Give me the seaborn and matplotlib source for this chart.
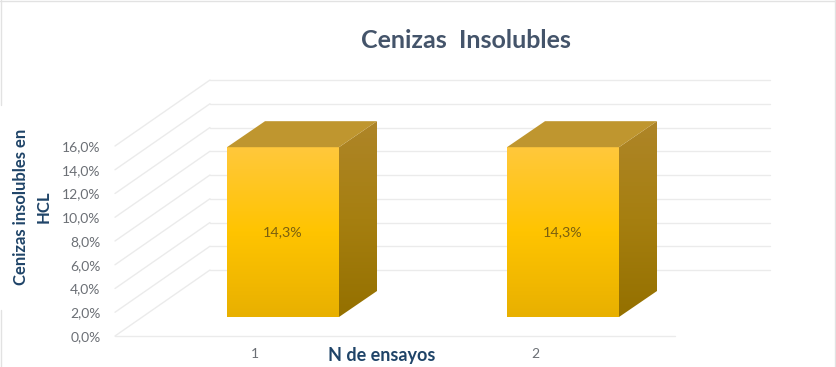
"""Cenizas insolubles: two trial bars drawn with a fake 3D box look."""
import matplotlib.pyplot as plt
import numpy as np
import pandas as pd
import seaborn as sns
from matplotlib.colors import LinearSegmentedColormap
from matplotlib.lines import Line2D
from matplotlib.patches import Polygon
from matplotlib.transforms import Affine2D, IdentityTransform

ensayos = ["1", "2"]
cenizas = [14.3, 14.3]
etiquetas = ["14,3%", "14,3%"]
y_ticks = [0, 2, 4, 6, 8, 10, 12, 14, 16]
y_labels = ["0,0%", "2,0%", "4,0%", "6,0%", "8,0%", "10,0%", "12,0%", "14,0%", "16,0%"]

W, H = 837, 367
GRID = "#EBEBEB"
TICK = "#6B6F75"
NAVY = "#1F4468"

sns.set_style("white")
plt.rcParams["font.family"] = ["Lato", "DejaVu Sans"]

fig = plt.figure(figsize=(W / 100, H / 100), dpi=100)
# front plane of the chart: 0% at y=336, 16% at y=146, floor from x=115 to x=675
ax = fig.add_axes([115 / W, (H - 336) / H, 560 / W, 190 / H])

df = pd.DataFrame({"ensayo": ensayos, "cenizas": cenizas})
sns.barplot(data=df, x="ensayo", y="cenizas", width=0.4, color="#FFC000", ax=ax, zorder=3)
ax.set_xlim(-0.5, 1.5)
ax.set_ylim(0, 16)
pixels = IdentityTransform()


def shifted(dx, dy):
    # pixel offset on top of the data scale, this is what fakes the depth
    return ax.transData + Affine2D().translate(dx, dy)


# walls: back lines and the diagonals on the left side
back = shifted(95, 66)
for v in y_ticks:
    ax.plot([-0.5, 1.5], [v, v], color=GRID, lw=1, transform=back, clip_on=False, zorder=1)
    p0 = ax.transData.transform((-0.5, v))
    ax.plot([p0[0], p0[0] + 95], [p0[1], p0[1] + 66], color=GRID, lw=1,
            transform=pixels, clip_on=False, zorder=1)
ax.plot([-0.5, 1.5], [0, 0], color=GRID, lw=1, clip_on=False, zorder=1)

front_cmap = LinearSegmentedColormap.from_list("front", ["#E8B000", "#FFC400", "#FFC83C"])
side_cmap = LinearSegmentedColormap.from_list("side", ["#947000", "#A67F10", "#AE8528"])
grad = np.linspace(0, 1, 256).reshape(-1, 1)

# bars sit in the middle of the floor depth
BAR_DX, BAR_DY = 28, 19
DEPTH_X, DEPTH_Y = 38, 26
plane = shifted(BAR_DX, BAR_DY)
for bar, txt in zip(ax.patches, etiquetas):
    x0, w, h = bar.get_x(), bar.get_width(), bar.get_height()
    bar.set_transform(plane)
    bar.set_edgecolor("none")
    front = ax.imshow(grad, cmap=front_cmap, origin="lower", aspect="auto",
                      extent=(x0, x0 + w, 0, h), transform=plane, zorder=4)
    front.set_clip_on(False)
    x_l, y_b = plane.transform((x0, 0))
    x_r, y_t = plane.transform((x0 + w, h))
    # side face, gradient clipped to a parallelogram
    side = Polygon([(x_r, y_b), (x_r + DEPTH_X, y_b + DEPTH_Y),
                    (x_r + DEPTH_X, y_t + DEPTH_Y), (x_r, y_t)],
                   transform=pixels, fc="none", ec="none")
    side_img = ax.imshow(grad, cmap=side_cmap, origin="lower", aspect="auto",
                         extent=(x_r, x_r + DEPTH_X, y_b, y_t + DEPTH_Y),
                         transform=pixels, zorder=4)
    side_img.set_clip_box(fig.bbox)
    side_img.set_clip_path(side)
    # top face
    ax.add_patch(Polygon([(x_l, y_t), (x_l + DEPTH_X, y_t + DEPTH_Y),
                          (x_r + DEPTH_X, y_t + DEPTH_Y), (x_r, y_t)],
                         transform=pixels, fc="#BF962F", ec="none", clip_on=False, zorder=4))
    ax.text(x0 + w / 2, h / 2, txt, transform=plane, ha="center", va="center",
            fontsize=10.3, color="#7A5F10", zorder=5)

ax.set_xlim(-0.5, 1.5)
ax.set_ylim(0, 16)
ax.set_yticks(y_ticks)
ax.set_yticklabels(y_labels)
ax.tick_params(axis="both", length=0, labelsize=10, labelcolor=TICK)
ax.tick_params(axis="y", pad=10.5)
ax.tick_params(axis="x", pad=8.5)
ax.set_xlabel("")
ax.set_ylabel("")
sns.despine(ax=ax, left=True, bottom=True)
ax.patch.set_alpha(0)

fig.text(466 / W, 1 - 40 / H, "Cenizas  Insolubles", ha="center", va="center",
         fontsize=18, fontweight="bold", color="#44546A")
fig.text(382 / W, 1 - 355 / H, "N de ensayos", ha="center", va="center",
         fontsize=13, fontweight="bold", color=NAVY)
fig.text(32 / W, 1 - 207 / H, "Cenizas insolubles en\nHCL", ha="center", va="center",
         rotation=90, fontsize=12, fontweight="bold", color=NAVY, linespacing=1.5)

# faint frame left over around the picture
frame = "#E2E2E2"
for xs, ys in [((0, W), (0.5, 0.5)), ((1.5, 1.5), (0, 105)), ((1.5, 1.5), (310, H)),
               ((835, 835), (0, H))]:
    fig.add_artist(Line2D([x / W for x in xs], [1 - y / H for y in ys], color=frame, lw=1))

fig.savefig("out.png", dpi=100)
